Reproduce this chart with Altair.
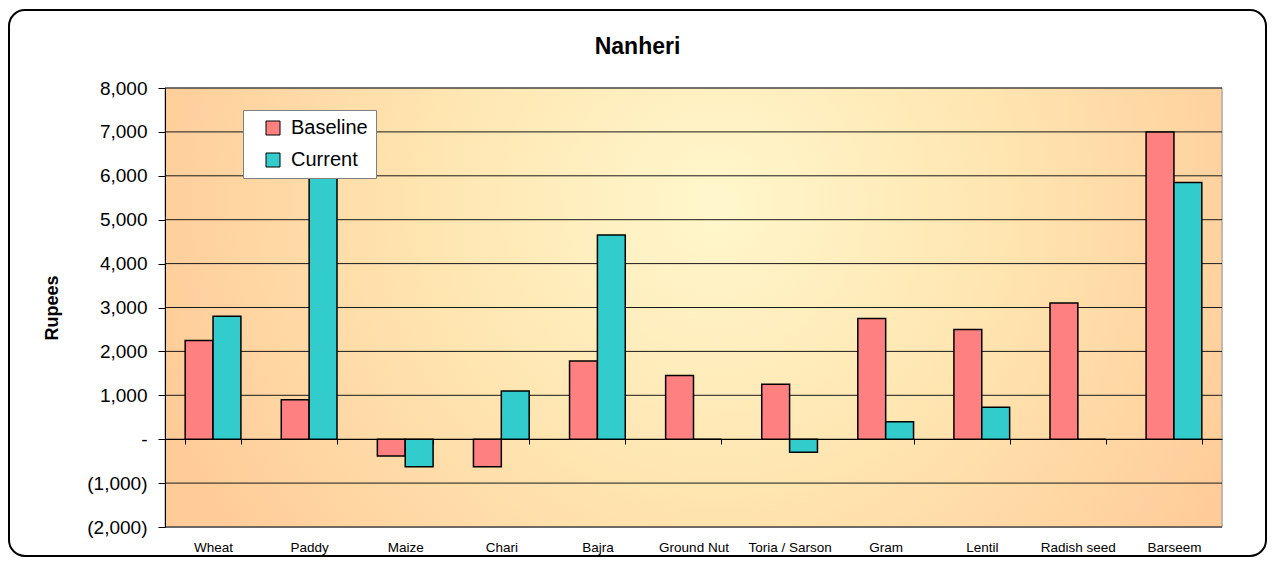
import altair as alt
import pandas as pd

categories = ["Wheat", "Paddy", "Maize", "Chari", "Bajra", "Ground Nut",
              "Toria / Sarson", "Gram", "Lentil", "Radish seed", "Barseem"]
baseline = [2250, 900, -380, -630, 1780, 1450, 1250, 2750, 2500, 3100, 7000]
current = [2800, 6500, -630, 1100, 4650, 0, -300, 400, 730, 0, 5850]
series_names = ["Baseline", "Current"]
series_colors = ["#FF8080", "#33CCCC"]
y_ticks = [-2000, -1000, 0, 1000, 2000, 3000, 4000, 5000, 6000, 7000, 8000]

rows = []
for c, b, cu in zip(categories, baseline, current):
    rows.append({"crop": c, "series": "Baseline", "value": b})
    rows.append({"crop": c, "series": "Current", "value": cu})
df = pd.DataFrame(rows)
grid_df = pd.DataFrame({"v": y_ticks})
one = pd.DataFrame({"a": [0]})

W, H = 1057, 439
FONT = "Liberation Sans"

yscale = alt.Scale(domain=[-2000, 8000], nice=False, zero=False)

frame = alt.Chart(one).mark_rect(
    fill="white", fillOpacity=0, stroke="black", strokeWidth=2, cornerRadius=16
).encode(
    x=alt.value(-156), x2=alt.value(1101), y=alt.value(-78), y2=alt.value(468)
)

grad = alt.Gradient(
    gradient="radial",
    stops=[
        alt.GradientStop(color="#FFF7CC", offset=0),
        alt.GradientStop(color="#FFE5B0", offset=0.5),
        alt.GradientStop(color="#FFCC99", offset=1),
    ],
    x1=0.52, y1=0.4, r1=0, x2=0.52, y2=0.4, r2=0.55,
)
bg = alt.Chart(one).mark_rect(fill=grad, stroke="#999999", strokeWidth=1).encode(
    x=alt.value(0), x2=alt.value(W), y=alt.value(0), y2=alt.value(H)
)

grid = alt.Chart(grid_df).mark_rule(color="#1a1a1a", strokeWidth=1).encode(
    y=alt.Y("v:Q", scale=yscale, axis=None)
)

label_expr = ("datum.value == 0 ? '-\u2007\u2007\u00a0' : (datum.value < 0 ? "
              "'(' + format(-datum.value, ',') + ')' : format(datum.value, ',') + '\u00a0')")

bars = alt.Chart(df).mark_bar(stroke="black", strokeWidth=1.5).encode(
    x=alt.X(
        "crop:N", sort=categories,
        scale=alt.Scale(paddingInner=0.42, paddingOuter=0.21),
        axis=alt.Axis(
            title=None, orient="bottom", offset=-88, labelAngle=0,
            domainColor="black", domainWidth=1, tickColor="black", tickSize=5,
            tickBand="extent", labelFont=FONT, labelFontSize=13.5,
            labelColor="black", labelPadding=96, grid=False, zindex=1,
        ),
    ),
    xOffset=alt.XOffset("series:N", sort=series_names,
                        scale=alt.Scale(paddingInner=0, paddingOuter=0)),
    y=alt.Y(
        "value:Q", scale=yscale,
        axis=alt.Axis(
            title="Rupees", values=y_ticks, labelExpr=label_expr, grid=False,
            domainColor="black", tickColor="black", tickSize=7,
            labelFont=FONT, labelFontSize=19, labelColor="black", labelPadding=11,
            titleFont=FONT, titleFontSize=18, titleFontWeight="bold", titleColor="black",
            titleX=-113, titleY=H / 2, titleAngle=270, titleAlign="center",
            titleBaseline="middle", zindex=1,
        ),
    ),
    color=alt.Color(
        "series:N",
        scale=alt.Scale(domain=series_names, range=series_colors),
        legend=alt.Legend(
            title=None, orient="none", legendX=78, legendY=22,
            fillColor="white", strokeColor="#808080", padding=8,
            labelFont=FONT, labelFontSize=20, labelColor="black",
            labelExpr="datum.label + '\u00a0\u00a0\u00a0'",
            symbolType="square", symbolSize=196, symbolStrokeColor="black",
            symbolStrokeWidth=1, symbolOffset=12, labelOffset=8, rowPadding=12,
        ),
    ),
)

chart = alt.layer(frame, bg, grid, bars).resolve_axis(y="independent").properties(
    width=W, height=H,
    padding={"left": 157, "top": 80, "right": 46, "bottom": 31},
    autosize=alt.AutoSizeParams(type="none"),
    title=alt.TitleParams("Nanheri", font=FONT, fontSize=23, fontWeight="bold",
                          color="black", anchor="middle", dx=-56, offset=-50),
).configure_view(stroke="transparent").configure(background="white")

chart.save("out.html", embed_options={"renderer": "svg", "actions": False})
